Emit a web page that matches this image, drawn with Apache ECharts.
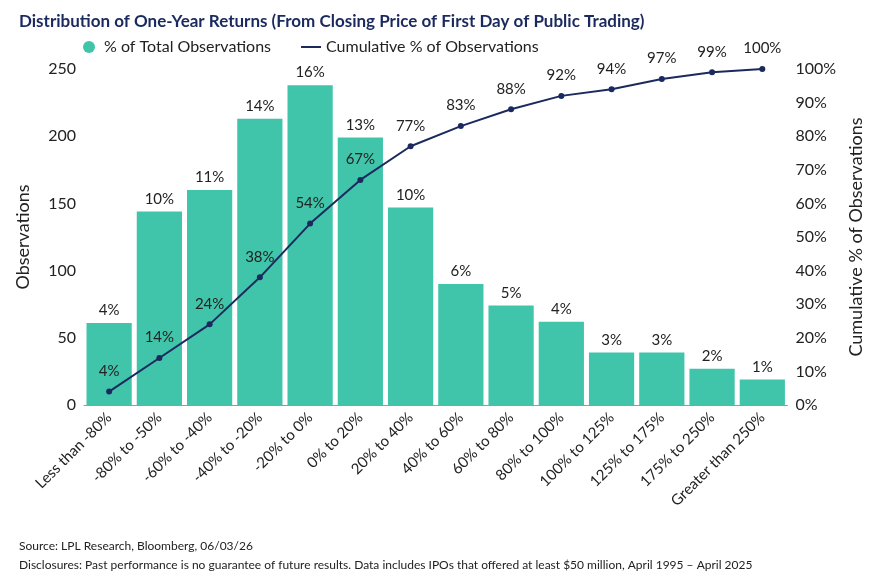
<!DOCTYPE html>
<html>
<head>
<meta charset="utf-8">
<script src="https://cdn.jsdelivr.net/npm/echarts@6/dist/echarts.min.js"></script>
<style>
  html, body { margin: 0; padding: 0; background: #fff; }
  #chart { width: 873px; height: 575px; }
</style>
</head>
<body>
<div id="chart"></div>
<script>
const categories = ['Less than -80%', '-80% to -50%', '-60% to -40%', '-40% to -20%', '-20% to 0%',
  '0% to 20%', '20% to 40%', '40% to 60%', '60% to 80%', '80% to 100%',
  '100% to 125%', '125% to 175%', '175% to 250%', 'Greater than 250%'];
const observations = [61, 144, 160, 213, 238, 199, 147, 90, 74, 62, 39, 39, 27, 19];
const pctOfTotal = [4, 10, 11, 14, 16, 13, 10, 6, 5, 4, 3, 3, 2, 1];
const cumulative = [4, 14, 24, 38, 54, 67, 77, 83, 88, 92, 94, 97, 99, 100];

const font = 'Lato, "Noto Sans", sans-serif';
const navy = '#1b2a5e';
const teal = '#40c4aa';
const txt = '#222';

const chart = echarts.init(document.getElementById('chart'));
chart.setOption({
  animation: false,
  textStyle: { fontFamily: font },
  title: [
    { text: 'Distribution of One-Year Returns (From Closing Price of First Day of Public Trading)',
      left: 14, top: 8, textStyle: { fontSize: 17, fontWeight: 'bold', color: navy, fontFamily: font } },
    { text: 'Source: LPL Research, Bloomberg, 06/03/26\nDisclosures: Past performance is no guarantee of future results. Data includes IPOs that offered at least $50 million, April 1995 – April 2025',
      left: 14, top: 532, textStyle: { fontSize: 12, fontWeight: 'normal', color: txt, lineHeight: 19, fontFamily: font } }
  ],
  legend: {
    top: 34, left: 78, itemGap: 30,
    textStyle: { fontSize: 16, color: txt },
    data: [
      { name: '% of Total Observations', icon: 'circle', itemStyle: { color: teal } },
      { name: 'Cumulative % of Observations', icon: 'path://M0,0H20V2H0Z', itemStyle: { color: navy } }
    ],
    itemWidth: 20, itemHeight: 12
  },
  grid: { left: 84, right: 80, top: 69, bottom: 170 },
  xAxis: {
    type: 'category', data: categories,
    axisLine: { lineStyle: { color: '#999' } },
    axisTick: { show: false },
    axisLabel: { rotate: 45, fontSize: 15, color: txt, interval: 0, margin: 10 }
  },
  yAxis: [
    { type: 'value', min: 0, max: 250, interval: 50, name: 'Observations', nameLocation: 'middle',
      nameGap: 52, nameTextStyle: { fontSize: 18, color: txt },
      splitLine: { show: false }, axisLabel: { fontSize: 16, color: txt } },
    { type: 'value', min: 0, max: 100, interval: 10, name: 'Cumulative % of Observations',
      nameLocation: 'middle', nameGap: 46, nameRotate: 90, nameTextStyle: { fontSize: 18, color: txt },
      splitLine: { show: false }, axisLabel: { fontSize: 16, color: txt, formatter: '{value}%' } }
  ],
  series: [
    { name: '% of Total Observations', type: 'bar', data: observations, barWidth: '90%',
      itemStyle: { color: teal },
      label: { show: true, position: 'top', fontSize: 15, color: txt,
        formatter: p => pctOfTotal[p.dataIndex] + '%' } },
    { name: 'Cumulative % of Observations', type: 'line', yAxisIndex: 1, data: cumulative,
      symbol: 'circle', symbolSize: 6, lineStyle: { color: navy, width: 2 }, itemStyle: { color: navy },
      label: { show: true, position: 'top', distance: 10, fontSize: 15, color: txt, formatter: '{c}%' } }
  ]
});
</script>
</body>
</html>
